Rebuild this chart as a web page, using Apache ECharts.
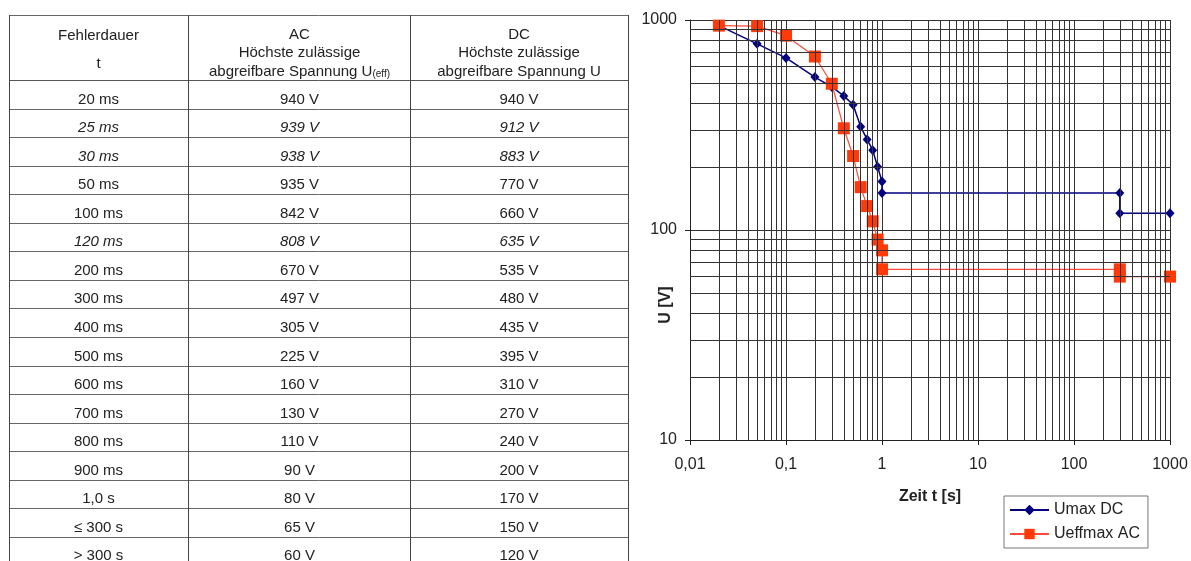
<!DOCTYPE html>
<html>
<head>
<meta charset="utf-8">
<script src="https://cdn.jsdelivr.net/npm/echarts@6/dist/echarts.min.js"></script>
<style>
html,body{margin:0;padding:0;background:#fff;}
#main{width:1191px;height:561px;}
</style>
</head>
<body>
<div id="main"></div>
<script>
// ---- Table data ----
const durations = ['20 ms','25 ms','30 ms','50 ms','100 ms','120 ms','200 ms','300 ms','400 ms','500 ms','600 ms','700 ms','800 ms','900 ms','1,0 s','≤ 300 s','> 300 s'];
const acVolts = [940,939,938,935,842,808,670,497,305,225,160,130,110,90,80,65,60];
const dcVolts = [940,912,883,770,660,635,535,480,435,395,310,270,240,200,170,150,120];
const interpolatedRows = ['25 ms','30 ms','120 ms'];
const headerCol1 = ['Fehlerdauer','t'];
const headerCol2 = ['AC','Höchste zulässige','abgreifbare Spannung U{sub|(eff)}'];
const headerCol3 = ['DC','Höchste zulässige','abgreifbare Spannung U'];

// ---- Chart data ----
const chartTimes = [0.02,0.05,0.1,0.2,0.3,0.4,0.5,0.6,0.7,0.8,0.9,1,1,300,300,1000];
const chartDC = [940,770,660,535,480,435,395,310,270,240,200,170,150,150,120,120];
const chartAC = [940,935,842,670,497,305,225,160,130,110,90,80,65,65,60,60];
const xTickLabels = {'0.01':'0,01','0.1':'0,1','1':'1','10':'10','100':'100','1000':'1000'};
const yTickLabels = {'10':'10','100':'100','1000':'1000'};
const minorGridX = [0.02,0.03,0.04,0.05,0.06,0.07,0.08,0.09,0.2,0.3,0.4,0.5,0.6,0.7,0.8,0.9,2,3,4,5,6,7,8,9,20,30,40,50,60,70,80,90,200,300,400,500,600,700,800,900];
const minorGridY = [20,30,40,50,60,70,80,90,200,300,400,500,600,700,800,900];

// ---- Build table graphics ----
const FONT = '"Liberation Sans", Arial, sans-serif';
const colX = [9, 188, 410, 628];
const colC = [98.5, 299.5, 519];
const tableTop = 15, headBottom = 80, rowH = 28.55, pageBottom = 561;
const g = [];
function hline(y, x1, x2, c){ g.push({type:'line', silent:true, shape:{x1:x1, y1:y, x2:x2, y2:y}, style:{stroke:c, lineWidth:1}}); }
function vline(x, y1, y2, c){ g.push({type:'line', silent:true, shape:{x1:x, y1:y1, x2:x, y2:y2}, style:{stroke:c, lineWidth:1}}); }
function txt(s, x, y, italic){
  g.push({type:'text', silent:true, style:{text:s, x:x, y:y, textAlign:'center', textVerticalAlign:'middle', fill:'#222',
    font:(italic?'italic ':'') + '15px ' + FONT}});
}
hline(Math.round(tableTop)+0.5, colX[0], colX[3], '#666');
hline(headBottom+0.5, colX[0], colX[3], '#555');
for (let i=1;i<durations.length;i++){
  hline(Math.round(headBottom + i*rowH)+0.5, colX[0], colX[3], '#666');
}
colX.forEach(x => vline(x+0.5, tableTop, pageBottom, '#444'));
// header
txt(headerCol1[0], colC[0], 36);
txt(headerCol1[1], colC[0], 64);
const subRich = {sub:{fontSize:10, fontFamily:FONT, fill:'#222', verticalAlign:'bottom', lineHeight:16}};
[headerCol2, headerCol3].forEach((col, ci) => {
  col.forEach((s, li) => {
    const yy = 35 + li*18.3;
    if (s.indexOf('{sub|') >= 0) {
      g.push({type:'text', silent:true, style:{text:s, x:colC[ci+1], y:yy, textAlign:'center', textVerticalAlign:'middle', fill:'#222', font:'15px '+FONT, rich:subRich}});
    } else {
      txt(s, colC[ci+1], yy);
    }
  });
});
durations.forEach((d, i) => {
  const yy = headBottom + i*rowH + 19.5;
  const it = interpolatedRows.indexOf(d) >= 0;
  txt(d, colC[0], yy, it);
  txt(acVolts[i] + ' V', colC[1], yy, it);
  txt(dcVolts[i] + ' V', colC[2], yy, it);
});

// ---- Chart ----
const chart = echarts.init(document.getElementById('main'), null, {renderer:'canvas'});
const gridLine = {color:'#333', width:1, type:'solid'};
function fmt(map){
  return function(v){ const k = String(Number(Number(v).toPrecision(6))); return map[k] !== undefined ? map[k] : k.replace('.', ','); };
}
chart.setOption({
  animation:false,
  backgroundColor:'#fff',
  textStyle:{fontFamily:FONT},
  graphic:g,
  grid:{left:690, right:21, top:20, bottom:121, outerBoundsMode:'none', containLabel:false},
  legend:{
    orient:'vertical', left:1004, top:496,
    data:['Umax DC','Ueffmax AC'],
    itemWidth:39, itemHeight:13, itemGap:8,
    padding:[6,8,6,5],
    borderColor:'#777', borderWidth:1,
    textStyle:{fontSize:16, color:'#222', fontFamily:FONT}
  },
  xAxis:{
    type:'log', logBase:10, min:0.01, max:1000,
    name:'Zeit t [s]', nameLocation:'middle', nameGap:49, nameMoveOverlap:false,
    nameTextStyle:{fontSize:16, fontWeight:'bold', color:'#222', fontFamily:FONT},
    axisLine:{show:true, lineStyle:{color:'#222', width:1}},
    axisTick:{show:true, length:5, lineStyle:{color:'#222'}},
    axisLabel:{fontSize:16, color:'#222', margin:17, fontFamily:FONT, formatter:fmt(xTickLabels)},
    splitLine:{show:true, lineStyle:gridLine},
    minorTick:{show:false}, minorSplitLine:{show:false}
  },
  yAxis:{
    type:'log', logBase:10, min:10, max:1000,
    name:'U [V]', nameLocation:'middle', nameGap:16, nameRotate:90, nameMoveOverlap:false,
    nameTextStyle:{fontSize:16, fontWeight:'bold', color:'#222', fontFamily:FONT, padding:[0,150,0,0]},
    axisLine:{show:true, lineStyle:{color:'#222', width:1}},
    axisTick:{show:true, length:5, lineStyle:{color:'#222'}},
    axisLabel:{fontSize:16, color:'#222', margin:13, fontFamily:FONT, formatter:fmt(yTickLabels)},
    splitLine:{show:true, lineStyle:gridLine},
    minorTick:{show:false}, minorSplitLine:{show:false}
  },
  series:[
    {
      name:'minor-grid', type:'line', data:[], z:1, silent:true,
      markLine:{
        silent:true, symbol:['none','none'], label:{show:false}, animation:false,
        lineStyle:{color:'#333', width:1, type:'solid'},
        emphasis:{disabled:true},
        data: minorGridX.map(v => ({xAxis:v})).concat(minorGridY.map(v => ({yAxis:v})))
      }
    },
    {
      name:'Umax DC', type:'line', z:3,
      data: chartTimes.map((t,i) => [t, chartDC[i]]),
      symbol:'diamond', symbolSize:[9,10],
      itemStyle:{color:'#000080'},
      lineStyle:{color:'#000080', width:1.5}
    },
    {
      name:'Ueffmax AC', type:'line', z:4,
      data: chartTimes.map((t,i) => [t, chartAC[i]]),
      symbol:'rect', symbolSize:12,
      itemStyle:{color:'#ff3a0a'},
      lineStyle:{color:'#ff4a3a', width:1.2}
    }
  ]
});
</script>
</body>
</html>
